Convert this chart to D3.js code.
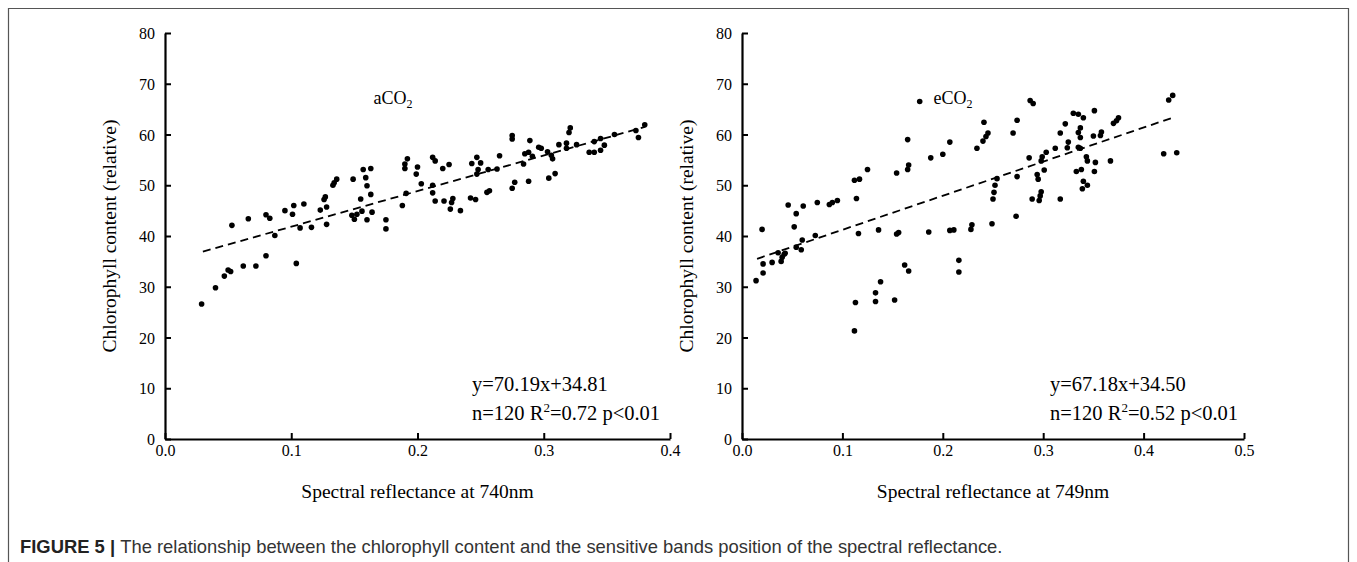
<!DOCTYPE html>
<html>
<head>
<meta charset="utf-8">
<script src="https://cdn.jsdelivr.net/npm/d3@7.9.0/dist/d3.min.js"></script>
<style>
  body { margin: 0; background: #fff; }
  svg { display: block; }
  .tick text { font-family: "Liberation Serif", "Times New Roman", serif; font-size: 16px; fill: #000; }
  .serif { font-family: "Liberation Serif", "Times New Roman", serif; fill: #000; }
</style>
</head>
<body>
<svg id="chart" width="1357" height="562"></svg>
<script>
// aCO2 panel: reflectance at 740nm vs chlorophyll
const aX = [0.029,0.040,0.047,0.050,0.052,0.062,0.072,0.080,0.104,0.053,0.066,0.080,0.083,0.087,0.095,0.101,0.102,0.110,0.107,0.116,
  0.128,0.123,0.128,0.126,0.127,0.133,0.134,0.136,0.149,0.148,0.150,0.152,0.155,0.156,0.157,0.159,0.160,0.163,0.163,0.164,
  0.160,0.175,0.175,0.188,0.191,0.190,0.190,0.192,0.200,0.199,0.203,0.212,0.212,0.214,0.212,0.214,0.220,0.225,0.221,0.228,
  0.227,0.226,0.234,0.242,0.246,0.243,0.247,0.250,0.248,0.247,0.256,0.263,0.255,0.257,0.265,0.275,0.275,0.284,0.285,0.288,
  0.291,0.289,0.277,0.275,0.288,0.296,0.298,0.303,0.306,0.307,0.304,0.309,0.312,0.318,0.318,0.320,0.321,0.326,0.336,0.340,
  0.345,0.348,0.340,0.345,0.356,0.373,0.375,0.380];
const aY = [26.6,29.8,32.1,33.3,33.0,34.1,34.1,36.1,34.6,42.1,43.4,44.2,43.5,40.1,45.0,44.3,46.0,46.3,41.6,41.7,
  42.3,45.1,45.7,47.2,47.7,50.0,50.5,51.2,51.2,44.1,43.3,44.3,47.3,44.9,53.1,51.5,49.9,53.3,48.2,44.7,
  43.2,43.2,41.4,46.0,48.4,54.2,53.3,55.2,53.6,52.2,50.3,50.0,48.5,46.9,55.5,54.8,53.3,54.1,46.9,47.4,
  46.6,45.3,45.0,47.5,47.2,54.3,55.5,54.4,53.1,52.2,53.1,53.2,48.6,48.9,55.8,59.8,59.1,54.2,56.2,56.5,
  55.7,58.8,50.6,49.4,50.8,57.5,57.3,56.6,55.9,55.2,51.4,52.3,58.0,58.3,57.3,60.4,61.3,58.0,56.5,56.5,
  56.9,57.9,58.6,59.2,60.0,60.8,59.4,61.9];

// eCO2 panel: reflectance at 749nm vs chlorophyll
const eX = [0.014,0.021,0.021,0.030,0.020,0.039,0.040,0.042,0.043,0.036,0.054,0.059,0.060,0.052,0.054,0.046,0.061,0.073,0.075,0.087,
  0.090,0.095,0.112,0.113,0.116,0.133,0.133,0.138,0.136,0.152,0.154,0.156,0.162,0.166,0.114,0.112,0.117,0.125,0.154,0.177,
  0.165,0.166,0.165,0.188,0.200,0.207,0.241,0.245,0.243,0.240,0.234,0.287,0.290,0.274,0.270,0.286,0.322,0.317,0.325,0.324,
  0.312,0.303,0.299,0.298,0.294,0.295,0.301,0.254,0.252,0.251,0.250,0.274,0.289,0.298,0.297,0.296,0.317,0.273,0.249,0.229,
  0.228,0.207,0.211,0.186,0.216,0.216,0.330,0.335,0.340,0.351,0.337,0.335,0.337,0.335,0.337,0.350,0.358,0.357,0.370,0.373,
  0.375,0.343,0.344,0.352,0.367,0.333,0.338,0.351,0.340,0.344,0.339,0.425,0.429,0.420,0.433];
const eY = [31.2,32.7,34.5,34.8,41.3,35.0,35.8,36.4,36.6,36.7,37.8,37.3,39.2,41.8,44.4,46.1,45.9,40.1,46.6,46.2,
  46.6,47.0,21.3,26.9,40.5,28.8,27.1,31.0,41.2,27.4,40.4,40.7,34.3,33.1,47.4,51.0,51.2,53.1,52.4,66.5,
  59.0,54.0,53.1,55.4,56.1,58.5,62.4,60.3,59.6,58.7,57.3,66.7,66.1,62.8,60.3,55.4,62.1,60.3,58.5,57.4,
  57.3,56.5,55.6,54.8,52.1,51.2,53.0,51.3,50.0,48.6,47.3,51.7,47.3,48.7,47.9,47.0,47.3,43.9,42.4,42.2,
  41.3,41.1,41.2,40.8,35.2,32.9,64.2,64.0,63.3,64.7,61.3,60.4,59.4,57.5,57.3,59.7,60.5,59.8,62.2,62.7,
  63.3,55.6,54.8,54.5,54.8,52.7,53.1,52.7,50.8,50.0,49.3,66.8,67.7,56.2,56.4];

// regression fits [slope, intercept, xStart, xEnd]
const aFit = [70.19, 34.81, 0.03, 0.38];
const eFit = [67.18, 34.50, 0.015, 0.43];

const yTicks = [0, 10, 20, 30, 40, 50, 60, 70, 80];
const aXTicks = [0, 0.1, 0.2, 0.3, 0.4];
const eXTicks = [0, 0.1, 0.2, 0.3, 0.4, 0.5];

const svg = d3.select('#chart');

// figure frame (open at the bottom)
svg.append('path')
  .attr('d', 'M8.5,562V8.5H1348.5V562')
  .attr('fill', 'none')
  .attr('stroke', '#555')
  .attr('stroke-width', 1.2);

function drawPanel(opt) {
  const x = d3.scaleLinear().domain([0, opt.xMax]).range([opt.left, opt.right]);
  const y = d3.scaleLinear().domain([0, 80]).range([439, 33]);
  const g = svg.append('g');

  const xAxis = g.append('g')
    .attr('transform', `translate(0,${y(0)})`)
    .call(d3.axisBottom(x).tickValues(opt.xTicks).tickFormat(d3.format('.1f'))
      .tickSizeInner(-6).tickSizeOuter(0).tickPadding(6));
  const yAxis = g.append('g')
    .attr('transform', `translate(${x(0)},0)`)
    .call(d3.axisLeft(y).tickValues(yTicks).tickSizeInner(-6).tickSizeOuter(0).tickPadding(10));
  [xAxis, yAxis].forEach(a => {
    a.select('.domain').attr('stroke', '#000').attr('stroke-width', 2.2);
    a.selectAll('.tick line').attr('stroke', '#000').attr('stroke-width', 2);
  });
  yAxis.selectAll('.tick text').attr('dy', '0.35em');

  // points
  g.append('g').selectAll('circle')
    .data(opt.xs.map((v, i) => [v, opt.ys[i]]))
    .join('circle')
    .attr('cx', d => x(d[0]))
    .attr('cy', d => y(d[1]))
    .attr('r', 2.8)
    .attr('fill', '#000');

  // fitted line
  const [k, b, x0, x1] = opt.fit;
  g.append('line')
    .attr('x1', x(x0)).attr('y1', y(k * x0 + b))
    .attr('x2', x(x1)).attr('y2', y(k * x1 + b))
    .attr('stroke', '#000')
    .attr('stroke-width', 1.8)
    .attr('stroke-dasharray', '8,5');

  // panel title with subscript
  const t = g.append('text').attr('class', 'serif')
    .attr('x', opt.titleX).attr('y', 104)
    .attr('text-anchor', 'middle')
    .style('font-size', '18px');
  t.append('tspan').text(opt.title);
  t.append('tspan').text('2').attr('dy', 4).style('font-size', '12px');

  // equation
  g.append('text').attr('class', 'serif')
    .attr('x', opt.eqX).attr('y', 391)
    .style('font-size', '20.5px')
    .text(opt.eq);
  const s = g.append('text').attr('class', 'serif')
    .attr('x', opt.eqX).attr('y', 420)
    .style('font-size', '20.5px');
  s.append('tspan').text('n=120 R');
  s.append('tspan').text('2').attr('dy', -8).style('font-size', '13px');
  s.append('tspan').text(opt.stat).attr('dy', 8);

  // axis titles
  g.append('text').attr('class', 'serif')
    .attr('x', (opt.left + opt.right) / 2).attr('y', 498)
    .attr('text-anchor', 'middle')
    .style('font-size', '19.5px')
    .text(opt.xLabel);
  g.append('text').attr('class', 'serif')
    .attr('transform', `translate(${opt.left - 49},236) rotate(-90)`)
    .attr('text-anchor', 'middle')
    .style('font-size', '19.5px')
    .text('Chlorophyll content (relative)');
}

drawPanel({
  left: 165, right: 670, xMax: 0.4, xTicks: aXTicks,
  xs: aX, ys: aY, fit: aFit,
  title: 'aCO', titleX: 393, eqX: 472,
  eq: 'y=70.19x+34.81', stat: '=0.72 p<0.01',
  xLabel: 'Spectral reflectance at 740nm'
});
drawPanel({
  left: 742, right: 1244, xMax: 0.5, xTicks: eXTicks,
  xs: eX, ys: eY, fit: eFit,
  title: 'eCO', titleX: 953, eqX: 1050,
  eq: 'y=67.18x+34.50', stat: '=0.52 p<0.01',
  xLabel: 'Spectral reflectance at 749nm'
});

// caption
const cap = svg.append('text')
  .attr('x', 20).attr('y', 553)
  .style('font-family', '"Liberation Sans", Arial, sans-serif')
  .style('font-size', '18.4px');
cap.append('tspan').text('FIGURE 5 | ').style('font-weight', 'bold').attr('fill', '#222');
cap.append('tspan').text('The relationship between the chlorophyll content and the sensitive bands position of the spectral reflectance.')
  .attr('fill', '#333');
</script>
</body>
</html>
